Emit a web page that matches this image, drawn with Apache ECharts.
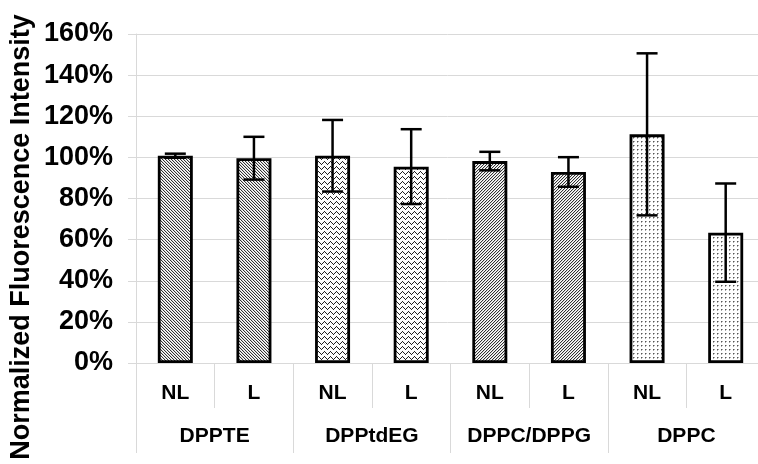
<!DOCTYPE html>
<html>
<head>
<meta charset="utf-8">
<script src="https://cdn.jsdelivr.net/npm/echarts@6/dist/echarts.min.js"></script>
<style>
html,body{margin:0;padding:0;background:#fff;}
#chart{width:758px;height:464px;}
</style>
</head>
<body>
<div id="chart"></div>
<script>
// ---- data ----
const categories = ['NL', 'L', 'NL', 'L', 'NL', 'L', 'NL', 'L'];
const groups = ['DPPTE', 'DPPtdEG', 'DPPC/DPPG', 'DPPC'];
const means = [100.8, 99.6, 100.8, 95.5, 98.2, 92.9, 111.2, 63.4];
const errors = [1.0, 10.4, 17.4, 18.2, 4.5, 7.2, 39.4, 23.9];
const yTicks = { min: 0, max: 160, interval: 20 };
const yTitle = 'Normalized Fluorescence Intensity';

// ---- hatch patterns ----
function makeTile(w, h, draw) {
  const c = document.createElement('canvas');
  c.width = w; c.height = h;
  const ctx = c.getContext('2d');
  ctx.fillStyle = '#fff';
  ctx.fillRect(0, 0, w, h);
  draw(ctx);
  return c;
}
const patBack = makeTile(3, 3, ctx => {
  for (let i = 0; i < 3; i++) {
    ctx.fillStyle = '#333'; ctx.fillRect(i, i, 1, 1);
    ctx.fillStyle = '#d4d4d4'; ctx.fillRect((i + 1) % 3, i, 1, 1);
  }
});
const patFwd = makeTile(3, 3, ctx => {
  for (let i = 0; i < 3; i++) {
    ctx.fillStyle = '#333'; ctx.fillRect(2 - i, i, 1, 1);
    ctx.fillStyle = '#d4d4d4'; ctx.fillRect((3 - i) % 3, i, 1, 1);
  }
});
const patZig = makeTile(6, 5, ctx => {
  const ys = [0, 1, 2, 3, 2, 1];
  ctx.fillStyle = '#222';
  for (let x = 0; x < 6; x++) ctx.fillRect(x, ys[x] + 1, 1, 1);
});
const patDot = makeTile(4, 4, ctx => {
  ctx.fillStyle = '#555';
  ctx.fillRect(1, 1, 1, 1);
  ctx.fillStyle = '#aaa';
  ctx.fillRect(2, 1, 1, 1);
  ctx.fillRect(1, 2, 1, 1);
});
const groupPatterns = [patBack, patZig, patFwd, patDot];

const barData = means.map((v, i) => ({
  value: v,
  itemStyle: { color: { image: groupPatterns[Math.floor(i / 2)], repeat: 'repeat' } }
}));
const errData = means.map((v, i) => [i, v, errors[i]]);

const chart = echarts.init(document.getElementById('chart'), null, { renderer: 'canvas' });
const FONT = '"Liberation Sans", Arial, sans-serif';
const gridColor = '#d9d9d9';

chart.setOption({
  animation: false,
  backgroundColor: '#fff',
  grid: { left: 136, right: -7, top: 34, bottom: 101, containLabel: false, outerBoundsMode: 'none' },
  graphic: [
    {
      type: 'text',
      x: 22, y: 237,
      rotation: Math.PI / 2,
      style: {
        text: yTitle,
        align: 'center', verticalAlign: 'middle',
        fill: '#000',
        font: 'bold 27px "Liberation Sans", Arial, sans-serif'
      }
    }
  ],
  xAxis: [
    {
      type: 'category',
      data: categories,
      position: 'bottom',
      axisLine: { show: true, lineStyle: { color: gridColor, width: 1 } },
      axisTick: { show: true, interval: 0, length: 45, lineStyle: { color: gridColor, width: 1 } },
      axisLabel: { interval: 0, margin: 20, color: '#000', fontFamily: FONT, fontWeight: 'bold', fontSize: 21 },
      splitLine: { show: false }
    },
    {
      type: 'category',
      data: groups,
      position: 'bottom',
      axisLine: { show: false },
      axisTick: { show: true, interval: 0, length: 90, lineStyle: { color: gridColor, width: 1 } },
      axisLabel: { interval: 0, margin: 63, color: '#000', fontFamily: FONT, fontWeight: 'bold', fontSize: 21 },
      splitLine: { show: false }
    }
  ],
  yAxis: {
    type: 'value',
    min: yTicks.min, max: yTicks.max, interval: yTicks.interval,
    axisLine: { show: true, lineStyle: { color: gridColor, width: 1 } },
    axisTick: { show: true, length: 8, lineStyle: { color: gridColor, width: 1 } },
    axisLabel: { margin: 23, color: '#000', fontFamily: FONT, fontWeight: 'bold', fontSize: 27, formatter: '{value}%' },
    splitLine: { show: true, lineStyle: { color: gridColor, width: 1 } }
  },
  series: [
    {
      type: 'bar',
      xAxisIndex: 0,
      barWidth: 35,
      data: barData,
      itemStyle: { borderColor: '#000', borderWidth: 2.8 },
      z: 2
    },
    {
      type: 'custom',
      xAxisIndex: 0,
      data: errData,
      encode: { x: 0, y: [1, 2] },
      z: 5,
      renderItem: function (params, api) {
        const x = api.value(0), m = api.value(1), e = api.value(2);
        const top = api.coord([x, m + e]);
        const bot = api.coord([x, m - e]);
        const hw = 10.5;
        const st = { stroke: '#000', lineWidth: 2.5 };
        return {
          type: 'group',
          children: [
            { type: 'line', shape: { x1: top[0], y1: top[1], x2: bot[0], y2: bot[1] }, style: st },
            { type: 'line', shape: { x1: top[0] - hw, y1: top[1], x2: top[0] + hw, y2: top[1] }, style: st },
            { type: 'line', shape: { x1: bot[0] - hw, y1: bot[1], x2: bot[0] + hw, y2: bot[1] }, style: st }
          ]
        };
      }
    }
  ]
});
</script>
</body>
</html>
